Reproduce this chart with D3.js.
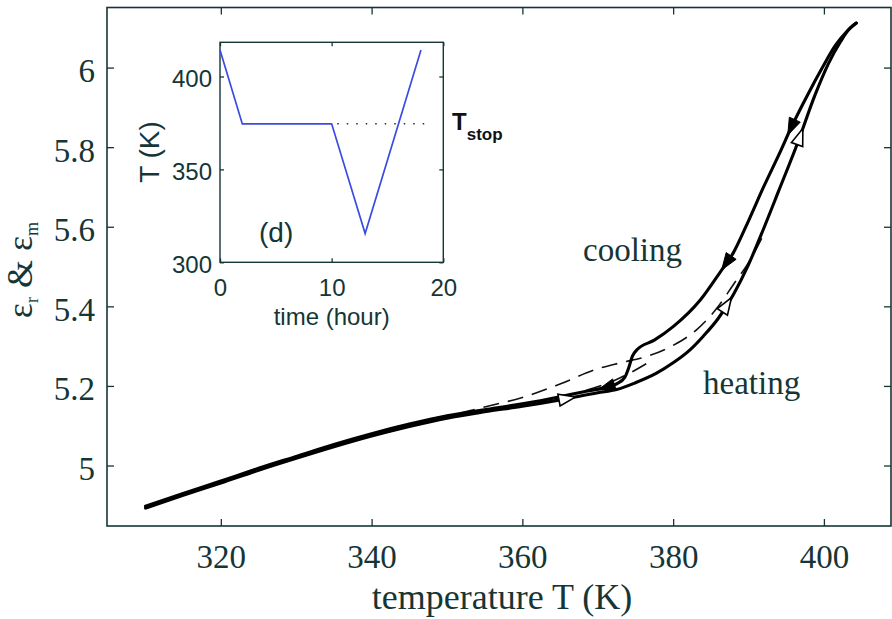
<!DOCTYPE html>
<html>
<head>
<meta charset="utf-8">
<script src="https://cdn.jsdelivr.net/npm/d3@7"></script>
<style>
  body { margin: 0; background: #fff; }
  svg { display: block; }
</style>
</head>
<body>
<div class="canvas"></div>
<script>
// heating branch, T (K) -> eps
const heatT = [310, 315, 320, 325, 330, 335, 340, 345, 350, 355, 360, 365, 370, 372.5, 375, 377.8, 380, 382.2, 384, 386, 388, 390, 392, 394, 396.6, 398.8, 400.6, 402.2, 403.5, 404.3];
const heatE = [4.893, 4.925, 4.956, 4.988, 5.018, 5.047, 5.074, 5.098, 5.119, 5.135, 5.149, 5.165, 5.183, 5.191, 5.208, 5.232, 5.258, 5.290, 5.325, 5.37, 5.43, 5.505, 5.595, 5.69, 5.815, 5.93, 6.01, 6.065, 6.10, 6.112];

// cooling branch, in order of travel (hot -> cold)
const coolT = [404.3, 403, 401.5, 399.8, 397.8, 395.8, 394, 392, 390, 388, 386.2, 383.6, 380, 377.5, 375.2, 374.6, 374.1, 373.6, 372.5, 371, 368, 365, 360, 355, 350, 345, 340, 335, 330, 325, 320, 315, 310];
const coolE = [6.112, 6.09, 6.055, 6.0, 5.93, 5.855, 5.78, 5.70, 5.615, 5.535, 5.485, 5.416, 5.349, 5.315, 5.291, 5.275, 5.245, 5.222, 5.205, 5.196, 5.185, 5.173, 5.155, 5.140, 5.125, 5.104, 5.080, 5.053, 5.023, 4.993, 4.961, 4.930, 4.898];

// dashed curves
const dashAT = [342, 346, 350, 355, 360, 365, 370, 373, 376.5, 380, 383.1, 386, 388, 390, 392];
const dashAE = [5.083, 5.104, 5.124, 5.147, 5.171, 5.205, 5.243, 5.258, 5.274, 5.302, 5.341, 5.40, 5.455, 5.51, 5.58];
const dashBT = [362, 366, 369, 372, 375, 377];
const dashBE = [5.160, 5.176, 5.192, 5.212, 5.24, 5.262];

// arrow positions (K)
const coolArrows = [395.7, 387.1, 371.2];
const heatArrows = [396.8, 387.1, 365.9];

const xTicks = [320, 340, 360, 380, 400];
const yTicks = [5, 5.2, 5.4, 5.6, 5.8, 6];

// inset: temperature protocol
const insetTime = [0, 2, 10, 13, 18];
const insetTemp = [414.3, 374.5, 374.5, 315.5, 414.3];
const stopTime = [10.5, 19];
const stopTemp = [374.5, 374.5];
const insetXTicks = [0, 10, 20];
const insetYTicks = [300, 350, 400];

const ink = '#163535';
const serif = '"Liberation Serif", "Times New Roman", serif';
const sans = '"Liberation Sans", Arial, sans-serif';

const svg = d3.select('.canvas').append('svg')
    .attr('width', 892)
    .attr('height', 619);

const x = d3.scaleLinear().domain([304.9, 408.9]).range([107, 891]);
const y = d3.scaleLinear().domain([4.848, 6.151]).range([526, 7.5]);

function styleAxis(g, size, family) {
  g.select('.domain').remove();
  g.selectAll('line').attr('stroke', ink).attr('stroke-width', 1.3);
  g.selectAll('text')
    .attr('font-family', family)
    .attr('font-size', size)
    .attr('fill', ink);
}

// main axes
svg.append('g')
    .attr('transform', 'translate(0,526)')
    .call(d3.axisBottom(x).tickValues(xTicks).tickSize(-7).tickSizeOuter(0).tickPadding(19).tickFormat(d3.format('d')))
    .call(g => styleAxis(g, 33, serif));

svg.append('g')
    .attr('transform', 'translate(0,7.5)')
    .call(d3.axisTop(x).tickValues(xTicks).tickSize(-7).tickSizeOuter(0).tickFormat(''))
    .call(g => styleAxis(g, 33, serif));

svg.append('g')
    .attr('transform', 'translate(107,0)')
    .call(d3.axisLeft(y).tickValues(yTicks).tickSize(-7).tickSizeOuter(0).tickPadding(12).tickFormat(d3.format('~g')))
    .call(g => styleAxis(g, 33, serif))
    .call(g => g.selectAll('text').attr('dy', '0.42em'));

svg.append('g')
    .attr('transform', 'translate(891,0)')
    .call(d3.axisRight(y).tickValues(yTicks).tickSize(-7).tickSizeOuter(0).tickFormat(''))
    .call(g => styleAxis(g, 33, serif));

svg.append('rect')
    .attr('x', 107).attr('y', 7.5)
    .attr('width', 784).attr('height', 518.5)
    .attr('fill', 'none')
    .attr('stroke', ink)
    .attr('stroke-width', 1.6);

// curves (drawn sorted by T so monotone interpolation works)
const line = d3.line()
    .x(d => x(d[0]))
    .y(d => y(d[1]))
    .curve(d3.curveMonotoneX);

const heat = heatT.map((t, i) => [t, heatE[i]]);
const cool = coolT.map((t, i) => [t, coolE[i]]);
const dashA = dashAT.map((t, i) => [t, dashAE[i]]);
const dashB = dashBT.map((t, i) => [t, dashBE[i]]);
const byT = d => d.slice().sort((a, b) => a[0] - b[0]);

[dashA, dashB].forEach(d => {
  svg.append('path')
      .attr('d', line(byT(d)))
      .attr('fill', 'none')
      .attr('stroke', '#111')
      .attr('stroke-width', 1.6)
      .attr('stroke-dasharray', '16 9');
});

[heat, cool].forEach(d => {
  svg.append('path')
      .attr('d', line(byT(d)))
      .attr('fill', 'none')
      .attr('stroke', '#000')
      .attr('stroke-width', 3.1)
      .attr('stroke-linejoin', 'round')
      .attr('stroke-linecap', 'round');
});

// arrowheads along the path, pointing in the order of the data
function arrowPoints(series, t) {
  for (let i = 0; i < series.length - 1; i++) {
    const a = series[i], b = series[i + 1];
    if ((t - a[0]) * (t - b[0]) <= 0 && a[0] !== b[0]) {
      const f = (t - a[0]) / (b[0] - a[0]);
      const ax = x(a[0]), ay = y(a[1]), bx = x(b[0]), by = y(b[1]);
      const px = ax + f * (bx - ax), py = ay + f * (by - ay);
      const len = Math.hypot(bx - ax, by - ay);
      const ux = (bx - ax) / len, uy = (by - ay) / len;
      const nx = -uy, ny = ux;
      const tip = [px + ux * 9, py + uy * 9];
      const bc = [px - ux * 8, py - uy * 8];
      return [tip, [bc[0] + nx * 6, bc[1] + ny * 6], [bc[0] - nx * 6, bc[1] - ny * 6]];
    }
  }
  return null;
}

coolArrows.forEach(t => {
  svg.append('polygon')
      .attr('points', arrowPoints(cool, t).map(p => p.join(',')).join(' '))
      .attr('fill', '#000')
      .attr('stroke', '#000')
      .attr('stroke-width', 1);
});

heatArrows.forEach(t => {
  svg.append('polygon')
      .attr('points', arrowPoints(heat, t).map(p => p.join(',')).join(' '))
      .attr('fill', '#fff')
      .attr('stroke', '#000')
      .attr('stroke-width', 1.6);
});

// text labels
svg.append('text')
    .attr('x', 583).attr('y', 261)
    .attr('font-family', serif).attr('font-size', 33).attr('fill', ink)
    .text('cooling');

svg.append('text')
    .attr('x', 703).attr('y', 394)
    .attr('font-family', serif).attr('font-size', 33).attr('fill', ink)
    .text('heating');

svg.append('text')
    .attr('x', 502).attr('y', 609)
    .attr('text-anchor', 'middle')
    .attr('font-family', serif).attr('font-size', 36).attr('fill', ink)
    .text('temperature T (K)');

const ylab = svg.append('text')
    .attr('transform', 'translate(32,270) rotate(-90)')
    .attr('text-anchor', 'middle')
    .attr('font-family', serif).attr('font-size', 36).attr('fill', ink);
ylab.append('tspan').text('ε');
ylab.append('tspan').attr('font-size', 18).attr('dy', 6).text('r');
ylab.append('tspan').attr('dy', -6).text(' & ε');
ylab.append('tspan').attr('font-size', 18).attr('dy', 6).text('m');

// inset
const ix = d3.scaleLinear().domain([0, 20]).range([220, 443.3]);
const iy = d3.scaleLinear().domain([300, 418.4]).range([262.3, 42.3]);

svg.append('rect')
    .attr('x', 220).attr('y', 42.3)
    .attr('width', 223.3).attr('height', 220)
    .attr('fill', '#fff');

svg.append('g')
    .attr('transform', 'translate(0,262.3)')
    .call(d3.axisBottom(ix).tickValues(insetXTicks).tickSize(-4).tickSizeOuter(0).tickPadding(17))
    .call(g => styleAxis(g, 24, sans));

svg.append('g')
    .attr('transform', 'translate(0,42.3)')
    .call(d3.axisTop(ix).tickValues(insetXTicks).tickSize(-4).tickSizeOuter(0).tickFormat(''))
    .call(g => styleAxis(g, 24, sans));

svg.append('g')
    .attr('transform', 'translate(220,0)')
    .call(d3.axisLeft(iy).tickValues(insetYTicks).tickSize(-4).tickSizeOuter(0).tickPadding(8))
    .call(g => styleAxis(g, 24, sans))
    .call(g => g.selectAll('text').attr('dy', '0.42em'));

svg.append('g')
    .attr('transform', 'translate(443.3,0)')
    .call(d3.axisRight(iy).tickValues(insetYTicks).tickSize(-4).tickSizeOuter(0).tickFormat(''))
    .call(g => styleAxis(g, 24, sans));

svg.append('rect')
    .attr('x', 220).attr('y', 42.3)
    .attr('width', 223.3).attr('height', 220)
    .attr('fill', 'none')
    .attr('stroke', ink)
    .attr('stroke-width', 1.4);

const iline = d3.line().x(d => ix(d[0])).y(d => iy(d[1]));

svg.append('path')
    .attr('d', iline(stopTime.map((t, i) => [t, stopTemp[i]])))
    .attr('fill', 'none')
    .attr('stroke', ink)
    .attr('stroke-width', 1.5)
    .attr('stroke-dasharray', '1.5 8');

svg.append('path')
    .attr('d', iline(insetTime.map((t, i) => [t, insetTemp[i]])))
    .attr('fill', 'none')
    .attr('stroke', '#3a4ce2')
    .attr('stroke-width', 1.7);

svg.append('text')
    .attr('x', 331.7).attr('y', 325)
    .attr('text-anchor', 'middle')
    .attr('font-family', sans).attr('font-size', 24).attr('fill', ink)
    .text('time (hour)');

svg.append('text')
    .attr('transform', 'translate(159,152) rotate(-90)')
    .attr('text-anchor', 'middle')
    .attr('font-family', sans).attr('font-size', 28).attr('fill', ink)
    .text('T (K)');

svg.append('text')
    .attr('x', 259).attr('y', 242)
    .attr('font-family', sans).attr('font-size', 28).attr('fill', ink)
    .text('(d)');

const tstop = svg.append('text')
    .attr('x', 452).attr('y', 130)
    .attr('font-family', sans).attr('font-size', 24).attr('font-weight', 'bold').attr('fill', '#111');
tstop.append('tspan').text('T');
tstop.append('tspan').attr('font-size', 17).attr('dy', 10).text('stop');
</script>
</body>
</html>
